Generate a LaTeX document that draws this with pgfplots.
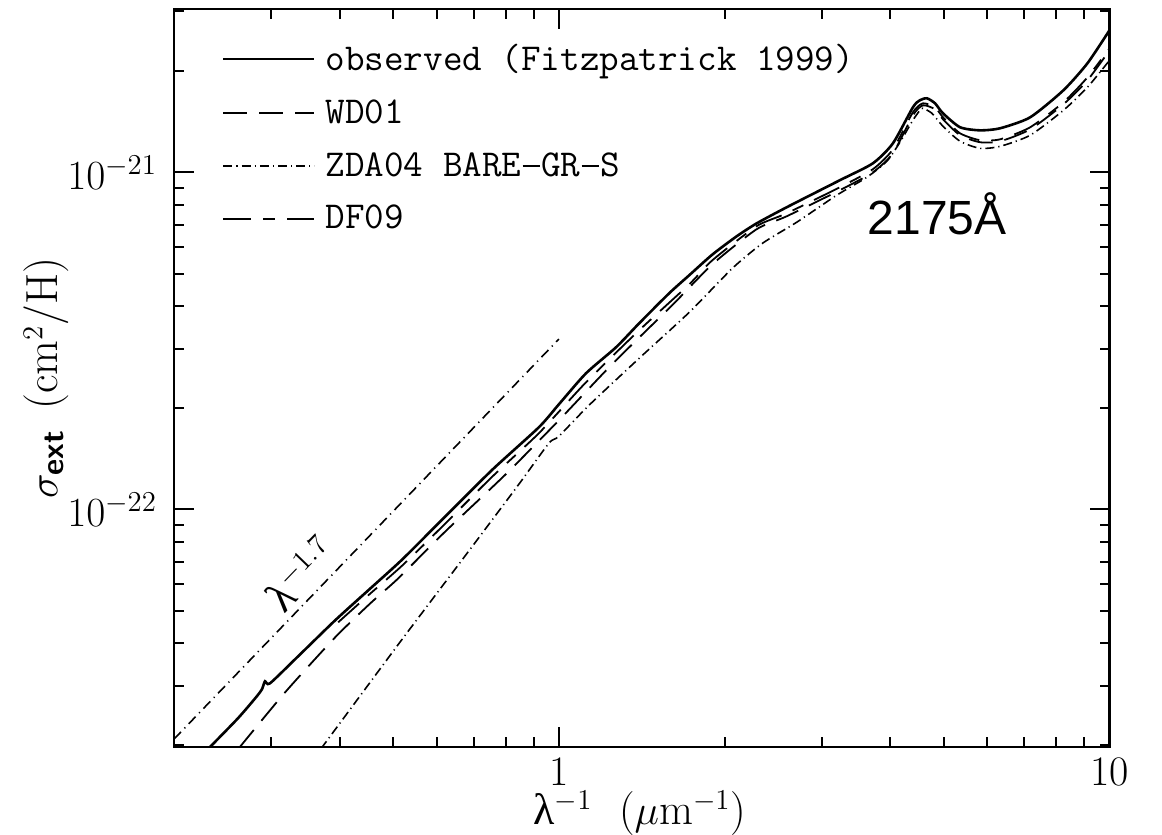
\documentclass[border=0pt]{standalone}
\usepackage{amsmath}
\usepackage{pgfplots}
\pgfplotsset{compat=1.18}
\usepackage{fontspec}
\newfontfamily\helv{Liberation Sans}
\newfontfamily\grk{Liberation Serif}
\newcommand{\mm}{\makebox[0.525em]{\rule[0.24em]{0.46em}{0.06em}}}

\pgfplotstableread{
x y
0.2310 1.950e-23
0.2613 2.398e-23
0.2818 2.768e-23
0.2889 2.924e-23
0.2926 3.088e-23
0.2988 3.046e-23
0.3361 3.663e-23
0.3925 4.685e-23
0.4507 5.750e-23
0.5176 7.058e-23
0.6045 9.088e-23
0.7551 1.305e-22
0.9196 1.751e-22
1.000 2.049e-22
1.120 2.532e-22
1.270 3.025e-22
1.399 3.564e-22
1.586 4.375e-22
1.725 4.950e-22
1.900 5.700e-22
2.101 6.450e-22
2.285 7.050e-22
2.592 7.875e-22
3.236 9.467e-22
3.717 1.063e-21
4.043 1.219e-21
4.395 1.559e-21
4.525 1.636e-21
4.661 1.658e-21
4.821 1.602e-21
4.985 1.496e-21
5.354 1.360e-21
5.821 1.332e-21
6.331 1.351e-21
7.178 1.456e-21
8.246 1.751e-21
9.119 2.106e-21
10.0 2.639e-21
}\tobs

\pgfplotstableread{
x y
0.2620 1.950e-23
0.3183 2.864e-23
0.3925 4.171e-23
0.4546 5.261e-23
0.5111 6.243e-23
0.6225 8.605e-23
0.8006 1.270e-22
1.000 1.837e-22
1.249 2.694e-22
1.606 4.031e-22
1.900 5.333e-22
2.285 6.774e-22
2.592 7.403e-22
3.236 8.843e-22
3.717 1.000e-21
4.043 1.139e-21
4.395 1.476e-21
4.583 1.580e-21
4.821 1.538e-21
4.985 1.436e-21
5.354 1.288e-21
5.821 1.228e-21
6.331 1.236e-21
7.178 1.341e-21
8.246 1.591e-21
9.119 1.875e-21
10.0 2.301e-21
}\twd

\pgfplotstableread{
x y
0.3700 1.950e-23
0.5111 3.976e-23
0.6855 7.505e-23
0.8457 1.186e-22
0.9589 1.570e-22
1.000 1.647e-22
1.134 2.035e-22
1.399 2.806e-22
1.725 3.842e-22
2.066 5.190e-22
2.343 6.157e-22
2.702 7.105e-22
3.195 8.547e-22
3.625 9.665e-22
3.941 1.078e-21
4.163 1.228e-21
4.395 1.427e-21
4.525 1.527e-21
4.583 1.549e-21
4.760 1.496e-21
4.985 1.369e-21
5.354 1.236e-21
5.821 1.178e-21
6.331 1.194e-21
7.178 1.288e-21
8.246 1.527e-21
9.119 1.788e-21
10.0 2.149e-21
}\tzda

\pgfplotstableread{
x y
0.3975 4.621e-23
0.4507 5.557e-23
0.5176 6.774e-23
0.6045 8.665e-23
0.7551 1.245e-22
0.9196 1.681e-22
1.120 2.381e-22
1.399 3.398e-22
1.725 4.653e-22
1.900 5.482e-22
2.285 6.915e-22
2.592 7.556e-22
3.236 9.025e-22
3.717 1.021e-21
4.043 1.170e-21
4.395 1.507e-21
4.583 1.602e-21
4.821 1.559e-21
4.985 1.456e-21
5.354 1.305e-21
5.821 1.245e-21
6.331 1.253e-21
7.178 1.360e-21
8.246 1.613e-21
9.119 1.913e-21
10.0 2.333e-21
}\tdfn

\begin{document}
\begin{tikzpicture}
\useasboundingbox (-87pt,-44pt) rectangle (494pt,373.5pt);
\begin{axis}[
  at={(0pt,0pt)}, anchor=south west,
  scale only axis, width=467.75pt, height=369pt,
  xmode=log, ymode=log,
  xmin=0.2, xmax=10, ymin=1.97e-23, ymax=3.05e-21,
  xtick={1,10}, xticklabels={1,10},
  minor xtick={0.3,0.4,0.5,0.6,0.7,0.8,0.9,2,3,4,5,6,7,8,9},
  ytick={1e-22,1e-21},
  minor ytick={2e-23,3e-23,4e-23,5e-23,6e-23,7e-23,8e-23,9e-23,2e-22,3e-22,4e-22,5e-22,6e-22,7e-22,8e-22,9e-22,2e-21,3e-21},
  tick align=inside,
  major tick length=10pt, minor tick length=5pt,
  every tick/.style={black, line width=1pt},
  axis line style={line width=1.4pt},
  ticklabel style={font=\fontsize{21}{24}\selectfont},
  xticklabel style={yshift=-2pt},
  yticklabel style={xshift=-5pt},
  xlabel={{\grk λ}$^{-1}$\ \ ($\mu$m$^{-1}$)},
  ylabel={$\sigma_{\text{\sffamily\bfseries ext}}$\hspace{0.45em}(cm$^2$/H)},
  xlabel style={at={(axis description cs:0.498,0)}, anchor=center, yshift=-33pt, font=\fontsize{22}{26}\selectfont},
  ylabel style={at={(axis description cs:-0.1366,0.50)}, anchor=center, font=\fontsize{22.5}{26}\selectfont},
  legend style={draw=none, fill=none, at={(axis description cs:0.051,0.958)}, anchor=north west,
    inner sep=0pt, row sep=9pt, font=\ttfamily\fontsize{19}{22}\selectfont,
    /tikz/every odd column/.append style={column sep=3pt}},
  legend cell align=left,
  legend image code/.code={\draw[#1] (0pt,0pt) -- (45.5pt,0pt);},
]
\addplot[black, line width=1.3pt, smooth, tension=0.4] table {\tobs};
\addlegendentry{observed (Fitzpatrick 1999)}
\addplot[black, line width=0.9pt, dash pattern=on 12pt off 6pt, smooth, tension=0.4] table {\twd};
\addlegendentry{WD01}
\addplot[black, line width=0.8pt, dash pattern=on 4.5pt off 2pt on 0.6pt off 2pt, smooth, tension=0.4] table {\tzda};
\addlegendentry{ZDA04 BARE\mm GR\mm S}
\addplot[black, line width=0.9pt, dash pattern=on 14pt off 6pt on 6pt off 6pt, smooth, tension=0.4] table {\tdfn};
\addlegendentry{DF09}
\addplot[black, line width=0.8pt, dash pattern=on 5pt off 2.5pt on 0.6pt off 2.5pt, forget plot] coordinates {(0.2,2.08e-23) (1,3.2e-22)};
\node[rotate=46, font=\fontsize{22}{26}\selectfont] at (axis cs:0.339,6.45e-23) {{\grk λ}$^{-1.7}$};
\node[font=\helv\fontsize{24}{28}\selectfont] at (axis cs:4.862,7.55e-22) {2175Å};
\end{axis}
\end{tikzpicture}
\end{document}
